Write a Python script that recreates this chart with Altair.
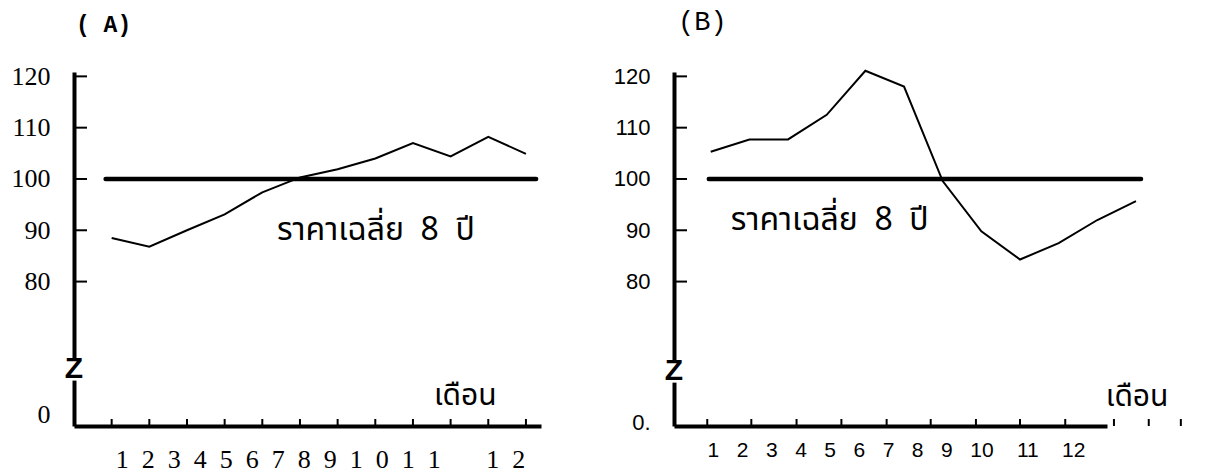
import altair as alt
import pandas as pd

NB = "\u00a0"

# ---- data ----
MONTHS = list(range(1, 13))
PRICE_A = [88.5, 86.8, 90.0, 93.1, 97.4, 100.3, 101.9, 104.0, 107.0, 104.4, 108.2, 104.9]
PRICE_B = [105.3, 107.7, 107.7, 112.5, 121.1, 118.0, 99.6, 89.8, 84.3, 87.5, 92.0, 95.7]
AVERAGE = 100
Y_TICKS = [80, 90, 100, 110, 120]

# tick positions along the month axis, as drawn
X_TICKS_A = [1, 2, 3, 4, 5, 6, 7, 8, 9, 10, 11, 12]
X_TICKS_B = [0.91, 2.05, 3.22, 4.38, 5.55, 6.69, 7.86, 9.0, 10.17, 11.43, 12.33, 13.16]

# typed month labels under each axis
LABELS_A = "1  2  3  4  5  6  7  8  9  1  0  1  1       1  2"
LABELS_B = "1   2   3   4   5   6   7   8   9   10    11    12"

AVG_TEXT = "ราคาเฉลี่ย  8  ปี"
MONTH_TEXT = "เดือน"

Y_DOMAIN = [51.85, 120.85]
H = 354

THAI_FONT = "Noto Sans Thai, Noto Sans Thai Looped, Noto Sans, sans-serif"


def panel(title, prices, x_domain, width, x_ticks, label_text, label_font,
          label_size, title_x, title_y, y_font, y_size, zero_label, zero_pos,
          avg_span, avg_text_pos, month_text_pos, title_font_weight, title_dx,
          break_pos, title_size):
    df = pd.DataFrame({"month": MONTHS, "price": prices})
    xs = alt.Scale(domain=x_domain, nice=False, zero=False)
    ys = alt.Scale(domain=Y_DOMAIN, nice=False, zero=False)

    line = alt.Chart(df).mark_line(color="black", strokeWidth=2).encode(
        x=alt.X("month:Q", scale=xs, axis=alt.Axis(
            domain=True, domainColor="black", domainWidth=4,
            labels=False, ticks=False, tickSize=0, grid=False,
            title=label_text.replace(" ", NB), titleFont=label_font,
            titleFontSize=label_size, titleFontWeight="normal",
            titleColor="black", titleX=title_x, titleY=title_y,
            titleAlign="center", titleBaseline="alphabetic")),
        y=alt.Y("price:Q", scale=ys, axis=alt.Axis(
            values=[zero_pos] + Y_TICKS,
            labelExpr=f"datum.value < 70 ? '{zero_label}' : datum.label",
            domain=True, domainColor="black", domainWidth=4,
            ticks=False, tickSize=0, grid=False, labelPadding=24,
            labelFont=y_font, labelFontSize=y_size, labelColor="black",
            title=None)),
    )

    avg = alt.Chart(pd.DataFrame({"x": [avg_span[0]], "x2": [avg_span[1]],
                                  "y": [AVERAGE]})).mark_rule(
        color="black", strokeWidth=4.5, strokeCap="round").encode(
        x=alt.X("x:Q", scale=xs), x2="x2:Q",
        y=alt.Y("y:Q", scale=ys))

    yt = alt.Chart(pd.DataFrame({"t": Y_TICKS})).mark_rule(
        color="black", strokeWidth=2).encode(
        y=alt.Y("t:Q", scale=ys),
        x=alt.value(0), x2=alt.value(13))

    xt = alt.Chart(pd.DataFrame({"t": x_ticks})).mark_rule(
        color="black", strokeWidth=2).encode(
        x=alt.X("t:Q", scale=xs),
        y=alt.value(H - 7), y2=alt.value(H))

    gap = alt.Chart(pd.DataFrame({"a": [break_pos - 2.2], "b": [break_pos + 2.2]})).mark_rule(
        color="white", strokeWidth=9).encode(
        y=alt.Y("a:Q", scale=ys), y2="b:Q", x=alt.value(0))

    zz = alt.Chart(pd.DataFrame({"y": [break_pos], "t": ["Z"]})).mark_text(
        font="Liberation Sans", fontWeight="bold", fontSize=30,
        baseline="middle", align="center", color="black").encode(
        y=alt.Y("y:Q", scale=ys), x=alt.value(0), text="t:N")

    notes = pd.DataFrame({
        "x": [avg_text_pos[0], month_text_pos[0]],
        "y": [avg_text_pos[1], month_text_pos[1]],
        "t": [AVG_TEXT.replace(" ", NB), MONTH_TEXT],
        "s": [32, 30],
    })
    txt = alt.Chart(notes).mark_text(
        font=THAI_FONT, align="left", baseline="alphabetic",
        color="black").encode(
        x=alt.X("x:Q", scale=xs),
        y=alt.Y("y:Q", scale=ys), text="t:N",
        size=alt.Size("s:Q", scale=None, legend=None))

    return alt.layer(line, avg, yt, xt, gap, zz, txt).properties(
        width=width, height=H,
        title=alt.TitleParams(title, anchor="start", frame="group",
                              font="Liberation Mono", fontSize=title_size,
                              fontWeight=title_font_weight, color="black",
                              baseline="alphabetic", offset=8, dx=title_dx))


a = panel("( A)", PRICE_A, [0, 12.4], 467, X_TICKS_A, LABELS_A,
          "Liberation Serif", 26, 246, 41, "Liberation Serif", 26, "0", 54.0,
          (0.84, 12.27), (5.39, 88.1), (9.56, 55.9), "bold", 2, 62.9, 23)
b = panel("(B)", PRICE_B, [0.05, 11.25], 433, X_TICKS_B, LABELS_B,
          "Liberation Sans", 21, 222, 30, "Liberation Sans", 22, "0.", 52.6,
          (0.95, 12.13), (1.52, 90.1), (11.22, 55.8), "normal", 4, 62.5, 27)

chart = alt.hconcat(a, b, spacing=72).properties(
    padding={"left": 3, "top": 0, "right": 5, "bottom": 5}
).configure(background="white").configure_view(stroke=None)

chart.save("out.html", embed_options={"renderer": "svg", "actions": False})
